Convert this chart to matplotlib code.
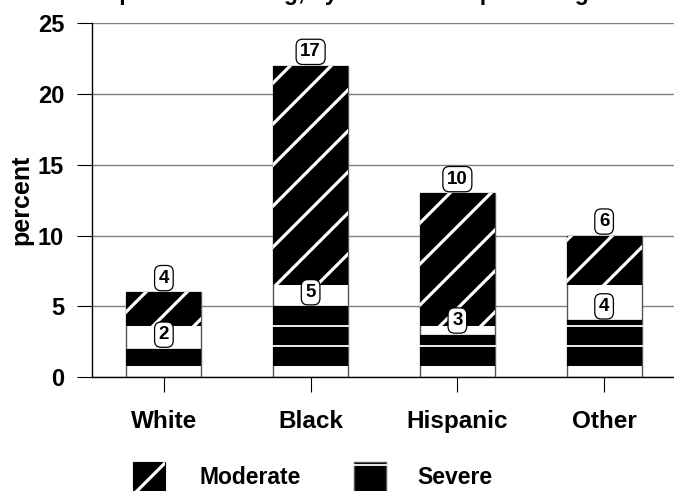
import numpy as np
import matplotlib
matplotlib.use("Agg")
import matplotlib.pyplot as plt
from matplotlib.patches import Rectangle
from matplotlib.lines import Line2D

# ---- data ----
races = ["White", "Black", "Hispanic", "Other"]
severe = [2, 5, 3, 4]
moderate = [4, 17, 10, 6]
yticks = [0, 5, 10, 15, 20, 25]
title = "Reported crowding, by race and Hispanic origin"

# ---- style ----
W, H = 674, 491
FONT = ["Liberation Sans", "DejaVu Sans"]
plt.rcParams["font.family"] = FONT
plt.rcParams["font.weight"] = "bold"
PAT_ORIGIN = 0.78     # pattern tile origin (data units)
SEV_PERIOD = 1.43     # severe pattern tile height
MOD_PERIOD = 2.86     # moderate pattern tile height
STRIPE_PX = 41        # diagonal stripe spacing (px)
STRIPE_PHASE = 12
BAR_W = 0.51
EDGE = "#555555"

fig = plt.figure(figsize=(W / 100, H / 100), dpi=100)
ax = fig.add_axes([92 / W, 114 / H, 584 / W, 353.5 / H])
ax.set_xlim(-0.49, 3.49)
ax.set_ylim(0, 25)

x = np.arange(len(races))

# gridlines
ax.set_yticks(yticks)
ax.yaxis.grid(True, color="#808080", lw=1.0, zorder=0)
ax.set_axisbelow(True)
for s in ["top", "right"]:
    ax.spines[s].set_visible(False)
ax.spines["left"].set_linewidth(1.0)
ax.spines["bottom"].set_linewidth(1.0)
ax.tick_params(axis="y", direction="out", length=11, width=0.8, pad=9, labelsize=17)
ax.tick_params(axis="x", direction="out", length=11, width=0.8, pad=13, labelsize=17.5)
ax.set_xticks(x)
ax.set_xticklabels(races, fontweight="bold")
ax.set_ylabel("percent", fontsize=18, fontweight="bold")
ax.yaxis.set_label_coords(-0.101, 0.5)

fig.canvas.draw()
tr = ax.transData
inv = tr.inverted()


def pattern_start(bottom, period):
    return PAT_ORIGIN + np.ceil((bottom - PAT_ORIGIN) / period) * period


def stripes(patch, x0, x1, y0, y1):
    (X0, Y0) = tr.transform((x0, y0))
    (X1, Y1) = tr.transform((x1, y1))
    cmin = Y0 - X1 - STRIPE_PX
    cmax = Y1 - X0 + STRIPE_PX
    k0 = np.floor((cmin - STRIPE_PHASE) / STRIPE_PX)
    k1 = np.ceil((cmax - STRIPE_PHASE) / STRIPE_PX)
    for k in np.arange(k0, k1 + 1):
        c = STRIPE_PHASE + k * STRIPE_PX
        xs = np.array([X0 - 10, X1 + 10])
        ys = xs + c
        pts = inv.transform(np.column_stack([xs, ys]))
        ln, = ax.plot(pts[:, 0], pts[:, 1], color="white", lw=2.3,
                      solid_capstyle="butt", zorder=4)
        ln.set_clip_path(patch)


def label(xc, top, val):
    ax.annotate(str(val), (xc, top), xytext=(0, 4), textcoords="offset points",
                ha="center", va="bottom", fontsize=13.5, fontweight="bold",
                bbox=dict(boxstyle="round,pad=0.22,rounding_size=0.35",
                          fc="white", ec="black", lw=0.9), zorder=6)


for i in range(len(races)):
    xc = x[i]
    # severe segment
    ax.bar(xc, severe[i], width=BAR_W, bottom=0, color="white",
           edgecolor=EDGE, lw=1.0, zorder=2)
    s0 = pattern_start(0, SEV_PERIOD)
    if severe[i] > s0:
        ax.bar(xc, severe[i] - s0, width=BAR_W, bottom=s0, color="black",
               lw=0, zorder=3)
        yl = s0 + SEV_PERIOD
        while yl < severe[i] - 0.05:
            ax.plot([xc - BAR_W / 2, xc + BAR_W / 2], [yl, yl], color="white",
                    lw=1.3, zorder=4)
            yl += SEV_PERIOD
    # moderate segment
    top = severe[i] + moderate[i]
    ax.bar(xc, moderate[i], width=BAR_W, bottom=severe[i], color="white",
           edgecolor=EDGE, lw=1.0, zorder=2)
    m0 = pattern_start(severe[i], MOD_PERIOD)
    if top > m0:
        p = ax.bar(xc, top - m0, width=BAR_W, bottom=m0, color="black",
                   lw=0, zorder=3)[0]
        stripes(p, xc - BAR_W / 2, xc + BAR_W / 2, m0, top)
    label(xc, severe[i], severe[i])
    label(xc, top, moderate[i])

# title (only descenders visible at the top edge, as in the reference)
fig.text(90 / W, 1.0, title, ha="left", va="baseline", fontsize=16.5,
         fontweight="bold")

# ---- legend ----
def fx(px):
    return px / W


def fy(py):
    return (H - py) / H


sw = 32
# Moderate swatch
r1 = Rectangle((fx(133), fy(494)), sw / W, 32 / H, transform=fig.transFigure,
               fc="black", ec="black", lw=0.8)
fig.add_artist(r1)
l1 = Line2D([fx(136), fx(166)], [fy(492), fy(462)], transform=fig.transFigure,
            color="white", lw=2.3)
l1.set_clip_path(r1)
fig.add_artist(l1)
fig.text(fx(200), fy(477), "Moderate", ha="left", va="center", fontsize=16.5,
         fontweight="bold")

# Severe swatch
r2 = Rectangle((fx(354), fy(494)), sw / W, 32 / H, transform=fig.transFigure,
               fc="black", ec=EDGE, lw=1.0)
fig.add_artist(r2)
l2 = Line2D([fx(354), fx(386)], [fy(464.5), fy(464.5)], transform=fig.transFigure,
            color="white", lw=1.3)
fig.add_artist(l2)
fig.text(fx(417), fy(477), "Severe", ha="left", va="center", fontsize=16.5,
         fontweight="bold")

fig.savefig("out.png", dpi=100)
